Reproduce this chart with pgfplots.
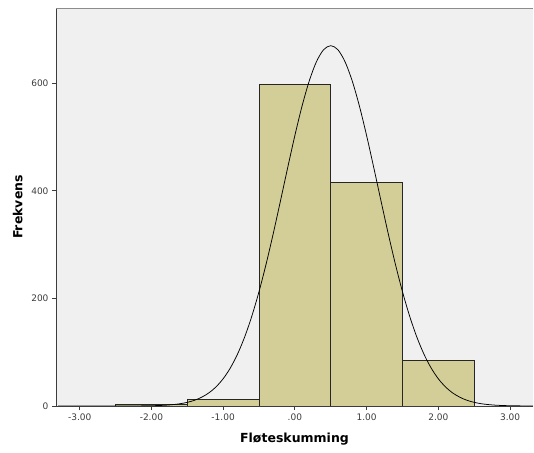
\documentclass[border=0pt]{standalone}
\usepackage{fontspec}
\setmainfont{DejaVu Sans}
\usepackage{pgfplots}
\pgfplotsset{compat=1.18}
\definecolor{bgc}{RGB}{240,240,240}
\definecolor{barc}{RGB}{211,206,151}
\definecolor{axc}{RGB}{60,60,60}
\begin{document}
\begin{tikzpicture}
\path[use as bounding box] (-56pt,-46pt) rectangle (478pt,398pt+8pt);
\begin{axis}[
  at={(0pt,0pt)}, anchor=south west,
  scale only axis, width=477pt, height=398pt,
  xmin=-3.33, xmax=3.32, ymin=0, ymax=740,
  axis background/.style={fill=bgc},
  axis line style={draw=none},
  xtick={-3,-2,-1,0,1,2,3},
  xticklabels={-3.00,-2.00,-1.00,.00,1.00,2.00,3.00},
  ytick={0,200,400,600},
  yticklabels={0,200,400,600},
  tick pos=left, tick align=outside,
  major tick length=4pt,
  tick style={axc, line width=0.8pt},
  ticklabel style={font=\fontsize{9}{10}\selectfont, text=axc},
  /pgf/number format/assume math mode=true,
  xlabel={\textbf{Fløteskumming}},
  ylabel={\textbf{Frekvens}},
  label style={font=\fontsize{12.5}{14}\selectfont},
  xlabel style={at={(axis description cs:0.5,0)}, anchor=north, yshift=-23pt},
  ylabel style={at={(axis description cs:0,0.5)}, anchor=south, yshift=30pt},
  clip=false,
]
\addplot[ybar interval, fill=barc, draw=black!85, line width=0.7pt]
  coordinates {(-2.5,3) (-1.5,12) (-0.5,598) (0.5,415) (1.5,84) (2.5,84)};
\addplot[black, line width=0.75pt, smooth, mark=none] coordinates {
(-3.3,0) (-2.5,0) (-2.3,0.08) (-2.2,0.16) (-2.1,0.3) (-2.0,0.5) (-1.9,0.9) (-1.8,1.5)
(-1.7,2.6) (-1.6,4.2) (-1.5,6.8) (-1.4,10.6) (-1.3,16.3) (-1.2,24.3) (-1.1,35.5)
(-1.0,50.6) (-0.9,70.6) (-0.8,96.3) (-0.7,128.3) (-0.6,167.1) (-0.5,212.6)
(-0.4,264.4) (-0.3,321.4) (-0.2,381.8) (-0.1,443.2) (0.0,502.9) (0.1,557.6)
(0.2,604.2) (0.3,639.9) (0.4,662.4) (0.5,670) (0.6,662.4) (0.7,639.9) (0.8,604.2)
(0.9,557.6) (1.0,502.9) (1.1,443.2) (1.2,381.8) (1.3,321.4) (1.4,264.4) (1.5,212.6)
(1.6,167.1) (1.7,128.3) (1.8,96.3) (1.9,70.6) (2.0,50.6) (2.1,35.5) (2.2,24.3)
(2.3,16.3) (2.4,10.6) (2.5,6.8) (2.6,4.2) (2.7,2.6) (2.8,1.5) (2.9,0.9) (3.0,0.5)
(3.1,0.3) (3.2,0.16) (3.32,0.08)
};
\draw[axc, line width=0.9pt] (rel axis cs:0,1) -- (rel axis cs:0,0) -- (rel axis cs:1,0);
\draw[black!45, line width=1pt] (rel axis cs:0,1) -- (rel axis cs:1,1);
\end{axis}
\end{tikzpicture}
\end{document}
